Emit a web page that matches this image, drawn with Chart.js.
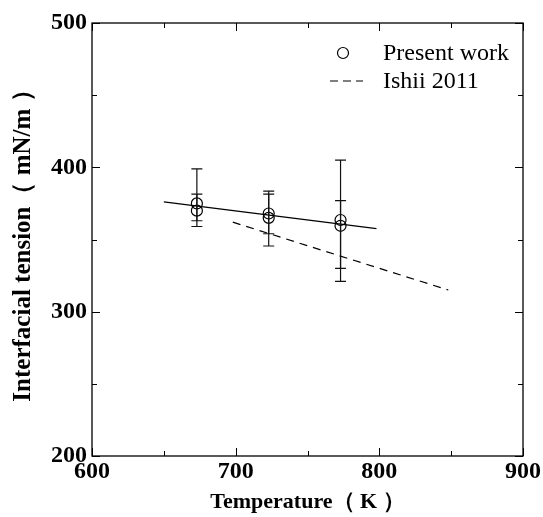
<!DOCTYPE html>
<html>
<head>
<meta charset="utf-8">
<script src="https://cdn.jsdelivr.net/npm/chart.js@4/dist/chart.umd.min.js"></script>
<style>
html,body{margin:0;padding:0;background:#fff;}
#wrap{width:543px;height:517px;position:relative;}
</style>
</head>
<body>
<div id="wrap"><canvas id="c" width="543" height="517"></canvas></div>
<script>
// ---- data ----
const temps      = [673, 673, 723, 723, 773, 773];
const tension    = [375, 370, 368, 365, 363.5, 359.5];
const errHigh    = [399, 381.5, 383.5, 381.5, 405, 377];
const errLow     = [359, 363, 345.5, 354, 321, 330];
const fitT       = [650, 798];
const fitV       = [376, 357.5];
const ishiiT     = [698, 848];
const ishiiV     = [362, 315];
const xTicks     = [600, 700, 800, 900];
const yTicks     = [200, 300, 400, 500];
const seriesNames = ['Present work', 'Ishii 2011'];
const xTitle = 'Temperature（ K ）';
const yTitle = 'Interfacial tension（ mN/m ）';

const SERIF = "'Liberation Serif', 'Times New Roman', serif";

const pts = temps.map((t, i) => ({x: t, y: tension[i]}));
const fitPts = fitT.map((t, i) => ({x: t, y: fitV[i]}));
const ishiiPts = ishiiT.map((t, i) => ({x: t, y: ishiiV[i]}));

const framePlugin = {
  id: 'frame',
  afterDatasetsDraw(chart) {
    const ctx = chart.ctx;
    const xs = chart.scales.x, ys = chart.scales.y;
    ctx.save();
    ctx.strokeStyle = '#111';
    ctx.lineWidth = 1.2;
    for (let i = 0; i < temps.length; i++) {
      const px = xs.getPixelForValue(temps[i]);
      const yt = ys.getPixelForValue(errHigh[i]);
      const yb = ys.getPixelForValue(errLow[i]);
      ctx.beginPath();
      ctx.moveTo(px, yt); ctx.lineTo(px, yb);
      ctx.moveTo(px - 5.5, yt); ctx.lineTo(px + 5.5, yt);
      ctx.moveTo(px - 5.5, yb); ctx.lineTo(px + 5.5, yb);
      ctx.stroke();
    }
    ctx.restore();
  },
  afterDraw(chart) {
    const ctx = chart.ctx;
    const xs = chart.scales.x, ys = chart.scales.y;
    const a = chart.chartArea;
    ctx.save();
    ctx.strokeStyle = '#000';
    ctx.lineWidth = 1.3;
    ctx.strokeRect(a.left, a.top, a.right - a.left, a.bottom - a.top);
    ctx.lineWidth = 1;
    ctx.beginPath();
    for (let v = 600; v <= 900; v += 50) {
      const px = Math.round(xs.getPixelForValue(v)) + 0.5;
      const len = (v % 100 === 0) ? 8 : 5;
      ctx.moveTo(px, a.bottom); ctx.lineTo(px, a.bottom - len);
      ctx.moveTo(px, a.top); ctx.lineTo(px, a.top + len);
    }
    for (let v = 200; v <= 500; v += 50) {
      const py = Math.round(ys.getPixelForValue(v)) + 0.5;
      const len = (v % 100 === 0) ? 8 : 5;
      ctx.moveTo(a.left, py); ctx.lineTo(a.left + len, py);
      ctx.moveTo(a.right, py); ctx.lineTo(a.right - len, py);
    }
    ctx.stroke();

    // legend
    const lx = a.right - 193, ly1 = a.top + 30, ly2 = a.top + 58;
    ctx.lineWidth = 1.2;
    ctx.beginPath();
    ctx.arc(lx + 13, ly1, 5.5, 0, Math.PI * 2);
    ctx.stroke();
    ctx.setLineDash([8, 5]);
    ctx.beginPath();
    ctx.moveTo(lx, ly2); ctx.lineTo(lx + 33, ly2);
    ctx.stroke();
    ctx.setLineDash([]);
    ctx.fillStyle = '#000';
    ctx.font = "24px " + SERIF;
    ctx.textAlign = 'left';
    ctx.textBaseline = 'middle';
    ctx.fillText(seriesNames[0], lx + 53, ly1 + 1);
    ctx.fillText(seriesNames[1], lx + 53, ly2 + 1);
    ctx.restore();
  }
};

new Chart(document.getElementById('c'), {
  type: 'scatter',
  data: {
    datasets: [
      {
        label: seriesNames[0],
        data: pts,
        showLine: false,
        pointStyle: 'circle',
        pointRadius: 5.5,
        pointBorderWidth: 1.2,
        pointBackgroundColor: 'rgba(255,255,255,0)',
        pointBorderColor: '#000',
        order: 0
      },
      {
        label: 'fit',
        data: fitPts,
        showLine: true,
        borderColor: '#000',
        borderWidth: 1.3,
        pointRadius: 0,
        order: 2
      },
      {
        label: seriesNames[1],
        data: ishiiPts,
        showLine: true,
        borderColor: '#000',
        borderWidth: 1.2,
        borderDash: [8, 6],
        pointRadius: 0,
        order: 3
      }
    ]
  },
  options: {
    responsive: false,
    animation: false,
    layout: { padding: { top: 23, right: 20, left: 0, bottom: 0 } },
    plugins: { legend: { display: false }, tooltip: { enabled: false } },
    scales: {
      x: {
        type: 'linear', min: 600, max: 900,
        afterBuildTicks(s) { s.ticks = xTicks.map(v => ({value: v})); },
        afterFit(s) { s.height = 61; },
        grid: { display: false, drawTicks: false },
        border: { display: false },
        ticks: { color: '#000', padding: 1, font: { family: SERIF, size: 24, weight: 'bold' } },
        title: { display: true, text: xTitle, color: '#000', padding: { top: 0, bottom: 1 },
                 font: { family: SERIF, size: 22, weight: 'bold' } }
      },
      y: {
        type: 'linear', min: 200, max: 500,
        afterBuildTicks(s) { s.ticks = yTicks.map(v => ({value: v})); },
        afterFit(s) { s.width = 92; },
        grid: { display: false, drawTicks: false },
        border: { display: false },
        ticks: { color: '#000', padding: 5, font: { family: SERIF, size: 24, weight: 'bold' } },
        title: { display: true, text: yTitle, color: '#000', padding: { top: 9, bottom: 0 },
                 font: { family: SERIF, size: 25, weight: 'bold' } }
      }
    }
  },
  plugins: [framePlugin]
});
</script>
</body>
</html>
